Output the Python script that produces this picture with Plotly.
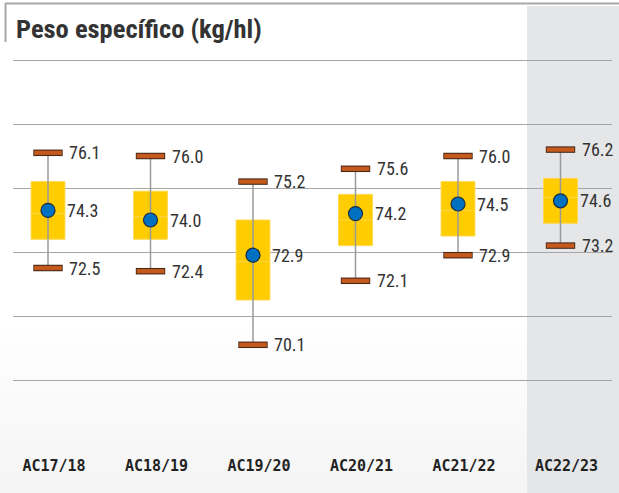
import plotly.graph_objects as go

categories = ["AC17/18", "AC18/19", "AC19/20", "AC20/21", "AC21/22", "AC22/23"]
max_vals = [76.1, 76.0, 75.2, 75.6, 76.0, 76.2]
min_vals = [72.5, 72.4, 70.1, 72.1, 72.9, 73.2]
mean_vals = [74.3, 74.0, 72.9, 74.2, 74.5, 74.6]
q3_vals = [75.2, 74.9, 74.0, 74.8, 75.2, 75.3]
median_vals = [74.2, 74.1, 72.7, 74.0, 74.3, 74.7]
q1_vals = [73.4, 73.4, 71.5, 73.2, 73.5, 73.9]

W, H = 619, 493
L, R, T, B = 13, 7, 50, 73
LABEL_FONT = "Liberation Sans Narrow, Arial Narrow, Roboto Condensed, Arial, sans-serif"

xi = list(range(len(categories)))
fig = go.Figure()

# whiskers
wx, wy = [], []
for i, lo, hi in zip(xi, min_vals, max_vals):
    wx += [i, i, None]
    wy += [lo, hi, None]
fig.add_trace(go.Scatter(x=wx, y=wy, mode="lines",
                         line=dict(color="#9A9A9A", width=1.5), hoverinfo="skip"))

# boxes
fig.add_trace(go.Box(x=xi, q1=q1_vals, median=median_vals, q3=q3_vals,
                     lowerfence=q1_vals, upperfence=q3_vals,
                     width=0.33, whiskerwidth=0,
                     fillcolor="#FFCC00", line=dict(color="#FFD84A", width=1)))

# caps (outline + fill); line-ew length is 1.4 * size
cap_x = xi + xi
cap_y = max_vals + min_vals
fig.add_trace(go.Scatter(x=cap_x, y=cap_y, mode="markers",
                         marker=dict(symbol="line-ew", size=21,
                                     line=dict(color="#4A2A1A", width=6.5)),
                         hoverinfo="skip"))
fig.add_trace(go.Scatter(x=cap_x, y=cap_y, mode="markers",
                         marker=dict(symbol="line-ew", size=19.7,
                                     line=dict(color="#C55A1C", width=4.3)),
                         hoverinfo="skip"))

# means
fig.add_trace(go.Scatter(x=xi, y=mean_vals, mode="markers",
                         marker=dict(symbol="circle", size=14, color="#0070C0",
                                     line=dict(color="#1B2B45", width=1.2)),
                         hoverinfo="skip"))

annotations = []
for i in xi:
    for v, shift in ((max_vals[i], 19), (min_vals[i], 19), (mean_vals[i], 17)):
        annotations.append(dict(x=i, y=v, xref="x", yref="y", text=f"{v:.1f}",
                                showarrow=False, xanchor="left", yanchor="middle",
                                xshift=shift, font=dict(family=LABEL_FONT, size=18, color="#333333")))

pw = W - L - R
ph = H - T - B
def px2paperx(px):
    return (px - L) / pw
def py2papery(py):
    return (H - B - py) / ph

shapes = []
# very faint background haze toward the bottom (soft steps)
for k in range(10):
    shapes.append(dict(type="rect", xref="paper", yref="paper", x0=px2paperx(0), x1=px2paperx(527),
                       y0=py2papery(494), y1=py2papery(330 + k * 16),
                       fillcolor="rgba(120,110,100,0.006)", line=dict(width=0), layer="below"))
shapes += [
    # grey column for last season
    dict(type="rect", xref="paper", yref="paper", x0=px2paperx(527), x1=px2paperx(620),
         y0=py2papery(494), y1=py2papery(6), fillcolor="#E5E6E8", line=dict(width=0), layer="below"),
    # top rule
    dict(type="line", xref="paper", yref="paper", x0=px2paperx(5), x1=px2paperx(619),
         y0=py2papery(3.5), y1=py2papery(3.5), line=dict(color="#A8A8A8", width=2), layer="above"),
    # left bar by title
    dict(type="line", xref="paper", yref="paper", x0=px2paperx(5.5), x1=px2paperx(5.5),
         y0=py2papery(3.5), y1=py2papery(42), line=dict(color="#A8A8A8", width=2), layer="above"),
]

top_val = 79 + (60 - T) / 32.0
bot_val = 79 - (H - B - 60) / 32.0

fig.update_layout(
    width=W, height=H,
    margin=dict(l=L, r=R, t=T, b=B, pad=0),
    paper_bgcolor="white", plot_bgcolor="rgba(0,0,0,0)",
    showlegend=False,
    title=dict(text="<b>Peso específico (kg/hl)</b>", xref="container", yref="container",
               x=16 / W, xanchor="left", y=1 - 29 / H, yanchor="middle",
               font=dict(family=LABEL_FONT, size=26.5, color="#333333")),
    xaxis=dict(range=[-(48 - L) / 102.5, 5 + (612 - 560.5) / 102.5],
               tickmode="array", tickvals=xi, ticktext=categories,
               showgrid=False, zeroline=False, showline=False, ticks="",
               tickfont=dict(family="DejaVu Sans Mono, Liberation Mono, monospace", size=15,
                             color="#222222", weight="bold"),
               ticklabelstandoff=35, ticklabelshift=6),
    yaxis=dict(range=[bot_val, top_val],
               tick0=69, dtick=2, showticklabels=False, ticks="",
               showgrid=True, gridcolor="#A6A6A6", gridwidth=1.3,
               zeroline=False, showline=False),
    annotations=annotations,
    shapes=shapes,
)

fig.write_html("out.html", config={"displayModeBar": False},
               post_script="document.body.style.margin='0';document.body.style.padding='0';")
